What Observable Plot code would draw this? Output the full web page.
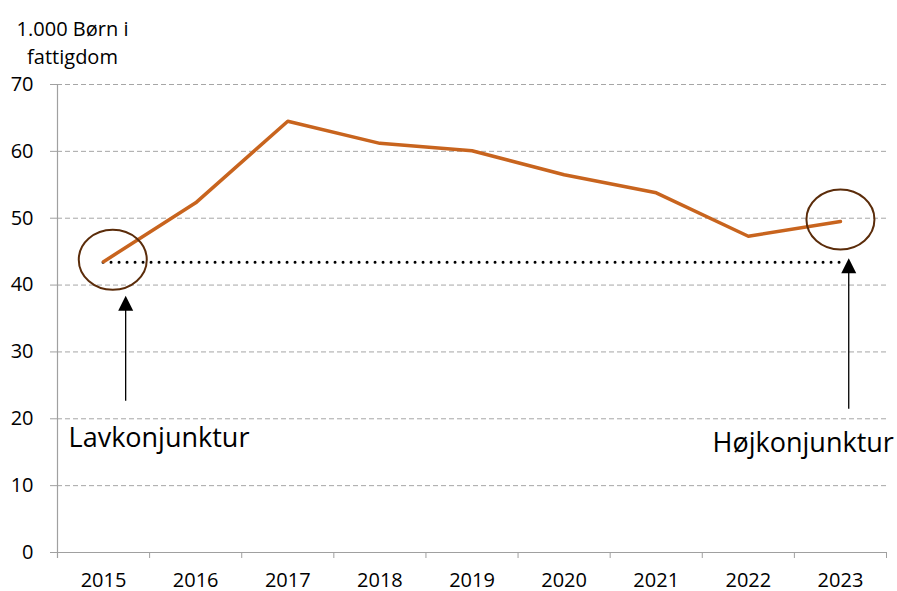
<!DOCTYPE html>
<html>
<head>
<meta charset="utf-8">
<script src="https://cdn.jsdelivr.net/npm/d3@7"></script>
<script src="https://cdn.jsdelivr.net/npm/@observablehq/plot@0.6"></script>
<style>
  html, body { margin: 0; padding: 0; background: #fff; }
  #chart svg { display: block; }
</style>
</head>
<body>
<div id="chart"></div>
<script>
// ---- data ----
const years = [2015, 2016, 2017, 2018, 2019, 2020, 2021, 2022, 2023];
const childrenInPoverty = [43.5, 52.3, 64.5, 61.2, 60.1, 56.5, 53.8, 47.3, 49.5];
const yTicks = [0, 10, 20, 30, 40, 50, 60, 70];
const referenceLevel = 43.4;
const yTitle = {x: 2014.663, y: 73.0, text: ["1.000 Børn i", "fattigdom"].join("\n")};
const ellipseCenters = [{x: 2015.1, y: 43.8}, {x: 2023.0, y: 49.8}];
const arrows = [{x: 2015.24, from: 23.9, to: 38.4}, {x: 2023.09, from: 22.7, to: 44.0}];
const lowNote = {x: 2014.62, y: 17.0, text: "Lavkonjunktur"};
const highNote = {x: 2023.58, y: 16.3, text: "Højkonjunktur"};

const series = years.map((year, i) => ({year, value: childrenInPoverty[i]}));
const bandEdges = [...years.map(y => y - 0.5), years[years.length - 1] + 0.5];

// custom symbols
const K = 0.5523;
const ellipseSymbol = {
  draw(ctx) {
    const rx = 34, ry = 30;
    ctx.moveTo(rx, 0);
    ctx.bezierCurveTo(rx, ry * K, rx * K, ry, 0, ry);
    ctx.bezierCurveTo(-rx * K, ry, -rx, ry * K, -rx, 0);
    ctx.bezierCurveTo(-rx, -ry * K, -rx * K, -ry, 0, -ry);
    ctx.bezierCurveTo(rx * K, -ry, rx, -ry * K, rx, 0);
    ctx.closePath();
  }
};
const headSymbol = {
  draw(ctx) {
    ctx.moveTo(0, 0);
    ctx.lineTo(-7.5, 15);
    ctx.lineTo(7.5, 15);
    ctx.closePath();
  }
};

const grey = "#a0a0a0";
const font = "'Open Sans', 'Noto Sans', sans-serif";

const chart = Plot.plot({
  width: 897,
  height: 591,
  marginTop: 84,
  marginBottom: 39,
  marginLeft: 57,
  marginRight: 11,
  style: {fontFamily: font, fontSize: "20px", color: "#000", background: "#fff", overflow: "visible"},
  x: {type: "linear", domain: [bandEdges[0], bandEdges[bandEdges.length - 1]]},
  y: {domain: [0, 70]},
  marks: [
    // grid
    Plot.ruleY(yTicks.filter(d => d > 0), {stroke: "#a6a6a6", strokeWidth: 1, strokeDasharray: "5,3"}),
    // axis lines
    Plot.ruleX([bandEdges[0]], {stroke: grey, strokeWidth: 1.2, insetBottom: -6}),
    Plot.ruleY([0], {stroke: grey, strokeWidth: 1.2}),
    // y ticks + labels
    Plot.axisY({ticks: yTicks, tickSize: 7, tickFormat: () => "", stroke: grey, label: null}),
    Plot.axisY({ticks: yTicks, tickSize: 0, tickPadding: 24, tickFormat: d => String(d), fill: "#000", label: null, fontSize: 20}),
    // x ticks + labels
    Plot.axisX({ticks: bandEdges, tickSize: 6, tickFormat: () => "", stroke: grey, label: null}),
    Plot.axisX({ticks: years, tickSize: 0, tickPadding: 20, tickFormat: d => String(d), fill: "#000", label: null, fontSize: 20}),
    // y title
    Plot.text([yTitle], {
      x: "x", y: "y", text: "text", lineAnchor: "bottom",
      textAnchor: "middle", lineHeight: 1.4, fontSize: 20, fill: "#000", clip: false
    }),
    // reference dotted line
    Plot.ruleY([referenceLevel], {
      x1: years[0], x2: years[years.length - 1],
      stroke: "#000", strokeWidth: 3, strokeDasharray: "0,8", strokeLinecap: "round"
    }),
    // main line
    Plot.line(series, {x: "year", y: "value", stroke: "#C8641E", strokeWidth: 3.5, strokeLinejoin: "round"}),
    // ellipses
    Plot.dot(ellipseCenters, {x: "x", y: "y", symbol: ellipseSymbol, stroke: "#5B2C0A", strokeWidth: 2, fill: "none"}),
    // arrows
    Plot.link(arrows, {x1: "x", x2: "x", y1: "from", y2: "to", stroke: "#000", strokeWidth: 1.3, dy: 8}),
    Plot.dot(arrows, {x: "x", y: "to", symbol: headSymbol, fill: "#000", stroke: "none"}),
    // notes
    Plot.text([lowNote], {x: "x", y: "y", text: "text", textAnchor: "start", fontSize: 27, fill: "#000"}),
    Plot.text([highNote], {x: "x", y: "y", text: "text", textAnchor: "end", fontSize: 27, fill: "#000"})
  ]
});

document.getElementById("chart").appendChild(chart);
</script>
</body>
</html>
